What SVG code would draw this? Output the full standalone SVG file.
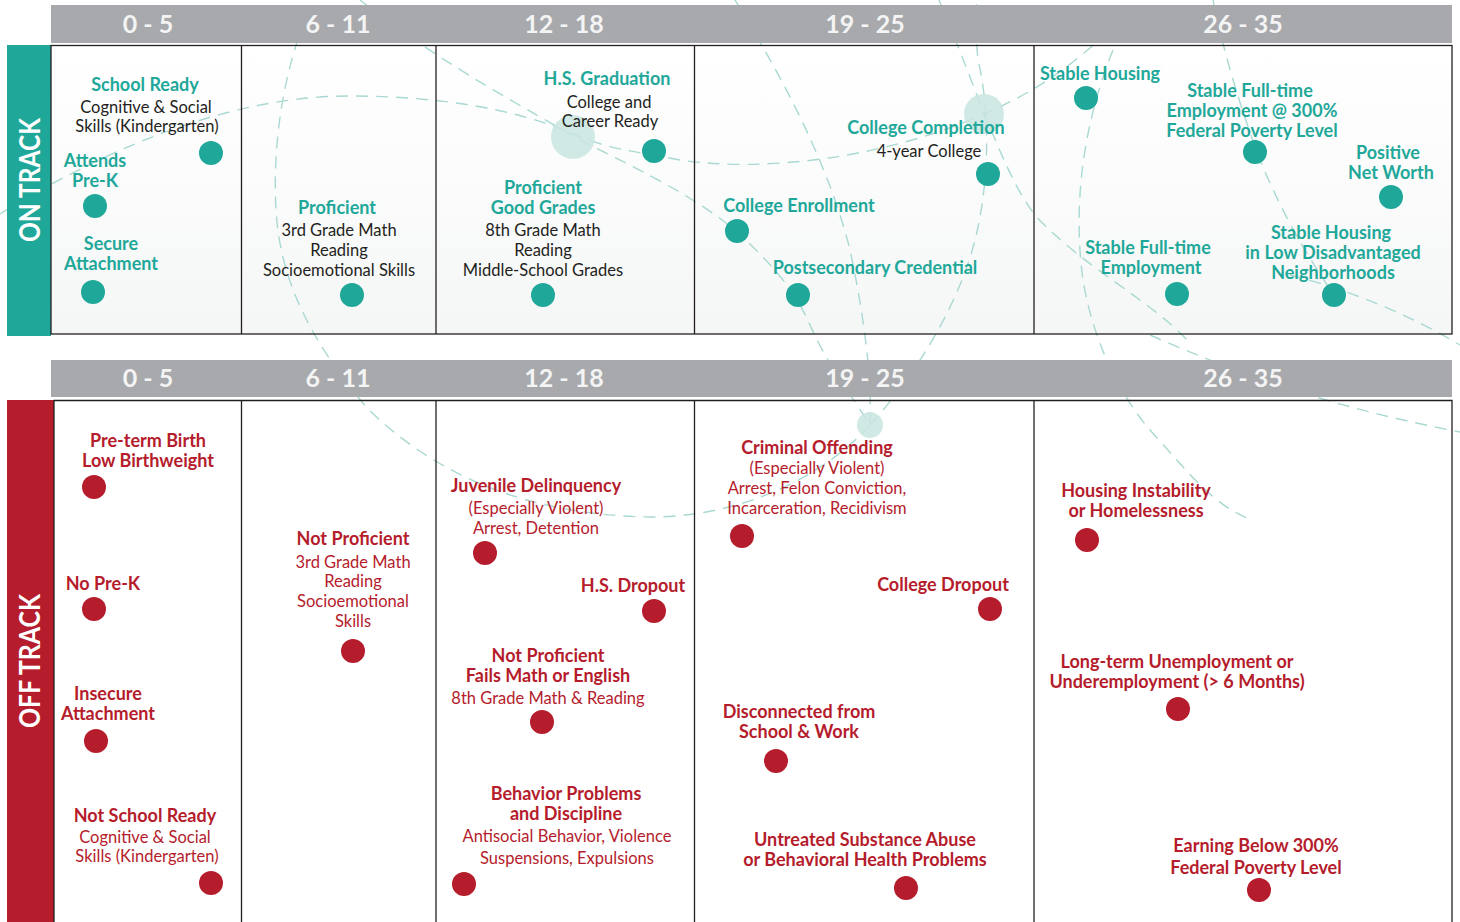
<svg xmlns="http://www.w3.org/2000/svg" width="1460" height="922" viewBox="0 0 1460 922">
<defs>
<linearGradient id="topbg" x1="0" y1="0" x2="0" y2="1">
<stop offset="0" stop-color="#ffffff"/>
<stop offset="1" stop-color="#f5f7f6"/>
</linearGradient>
<style>
text{font-family:Lato,"Open Sans","Liberation Sans",sans-serif;text-anchor:middle}
.hd{font-size:25px;font-weight:bold;fill:#f4f4f4}
.side{font-size:28px;font-weight:bold;fill:#ffffff}
.tb{font-size:18px;font-weight:bold;fill:#1fa89a}
.tk{font-size:16.5px;fill:#231f20}
.rb{font-size:18px;font-weight:bold;fill:#b51c2c}
.rr{font-size:16.5px;fill:#b51c2c}
.td{fill:#1fa89a}
.rd{fill:#b51c2c}
.halo{fill:#c9e5e1;opacity:0.85}
.dash{fill:none;stroke:#a9d9d2;stroke-width:1.4;stroke-dasharray:12 8}
.hdbar{fill:#a7a9ac}
.frame{fill:none;stroke:#231f20;stroke-width:1.3}
</style>
</defs>
<rect width="1460" height="922" fill="#ffffff"/>
<!-- panel backgrounds -->
<rect x="51" y="45" width="1401" height="289" fill="url(#topbg)"/>
<rect x="54" y="400" width="1398" height="522" fill="#ffffff"/>

<!-- decorative dashed curves -->
<g id="connectors">
<path class="dash" d="M0,214 C120,140 240,96 350,96 C440,96 520,110 573,134 C610,150 640,152 680,160 C760,172 880,160 984,114 C1040,90 1080,60 1120,20"/>
<path class="dash" d="M360,0 C450,70 530,110 580,140 C650,175 700,200 737,232 C770,262 795,290 810,325 C830,370 855,400 870,425"/>
<path class="dash" d="M305,20 C285,70 272,140 276,210 C280,280 310,340 367,408 C430,470 520,515 650,517 C750,517 830,470 870,425"/>
<path class="dash" d="M735,0 C790,90 830,170 850,250 C865,320 872,380 870,425"/>
<path class="dash" d="M870,425 C920,370 960,300 975,240 C990,180 990,110 978,60 C975,30 976,10 977,0"/>
<path class="dash" d="M939,0 C960,50 975,90 984,114 C1000,150 1015,190 1035,215 C1080,265 1150,300 1187,340"/>
<path class="dash" d="M1113,50 C1085,120 1072,200 1083,280 C1093,340 1120,400 1160,441 C1190,475 1215,505 1247,518"/>
<path class="dash" d="M1213,0 C1225,60 1245,120 1260,160 C1285,220 1310,260 1334,295"/>
<path class="dash" d="M1290,275 C1350,290 1410,315 1460,345"/>
<path class="dash" d="M1150,335 C1230,370 1320,405 1460,432"/>
</g>

<!-- halos -->
<circle class="halo" cx="573" cy="137" r="22"/>
<circle class="halo" cx="984" cy="114" r="20"/>
<circle class="halo" cx="870" cy="425" r="13" opacity="0.6"/>

<!-- headers -->
<g id="header-top">
<rect class="hdbar" x="51" y="5" width="1401" height="38"/>
<text class="hd" x="148" y="33">0 - 5</text>
<text class="hd" x="338" y="33">6 - 11</text>
<text class="hd" x="564" y="33">12 - 18</text>
<text class="hd" x="865" y="33">19 - 25</text>
<text class="hd" x="1243" y="33">26 - 35</text>
</g>
<g id="header-bottom">
<rect class="hdbar" x="51" y="360" width="1401" height="37"/>
<text class="hd" x="148" y="387">0 - 5</text>
<text class="hd" x="338" y="387">6 - 11</text>
<text class="hd" x="564" y="387">12 - 18</text>
<text class="hd" x="865" y="387">19 - 25</text>
<text class="hd" x="1243" y="387">26 - 35</text>
</g>

<!-- side bars -->
<g id="on-track-label">
<rect x="7" y="45" width="44" height="291" fill="#1fa89a"/>
<text class="side" transform="translate(40,180) rotate(-90)" textLength="124" lengthAdjust="spacingAndGlyphs">ON TRACK</text>
</g>
<g id="off-track-label">
<rect x="7" y="400" width="47" height="522" fill="#b51c2c"/>
<text class="side" transform="translate(40,661) rotate(-90)" textLength="134" lengthAdjust="spacingAndGlyphs">OFF TRACK</text>
</g>

<!-- frames -->
<g id="frames">
<rect class="frame" x="51" y="45.5" width="1401" height="288.5"/>
<line class="frame" x1="241.5" y1="45" x2="241.5" y2="334"/>
<line class="frame" x1="436" y1="45" x2="436" y2="334"/>
<line class="frame" x1="694.5" y1="45" x2="694.5" y2="334"/>
<line class="frame" x1="1034" y1="45" x2="1034" y2="334"/>
<path class="frame" d="M54,922 V400.5 H1452 V922"/>
<line class="frame" x1="241.5" y1="400" x2="241.5" y2="922"/>
<line class="frame" x1="436" y1="400" x2="436" y2="922"/>
<line class="frame" x1="694.5" y1="400" x2="694.5" y2="922"/>
<line class="frame" x1="1034" y1="400" x2="1034" y2="922"/>
</g>

<!-- ON TRACK nodes -->
<g id="school-ready">
<text class="tb" x="145" y="91">School Ready</text>
<text class="tk" x="146" y="113">Cognitive &amp; Social</text>
<text class="tk" x="147" y="132">Skills (Kindergarten)</text>
<circle class="td" cx="211" cy="153" r="12"/>
</g>
<g id="attends-prek">
<text class="tb" x="95" y="167">Attends</text>
<text class="tb" x="95" y="187">Pre-K</text>
<circle class="td" cx="95" cy="206" r="12"/>
</g>
<g id="secure-attachment">
<text class="tb" x="111" y="250">Secure</text>
<text class="tb" x="111" y="270">Attachment</text>
<circle class="td" cx="93" cy="292" r="12"/>
</g>
<g id="proficient-6-11">
<text class="tb" x="337" y="214">Proficient</text>
<text class="tk" x="339" y="236">3rd Grade Math</text>
<text class="tk" x="339" y="256">Reading</text>
<text class="tk" x="339" y="276">Socioemotional Skills</text>
<circle class="td" cx="352" cy="295" r="12"/>
</g>
<g id="hs-graduation">
<text class="tb" x="607" y="85">H.S. Graduation</text>
<text class="tk" x="609" y="108">College and</text>
<text class="tk" x="610" y="127">Career Ready</text>
<circle class="td" cx="654" cy="151" r="12"/>
</g>
<g id="proficient-12-18">
<text class="tb" x="543" y="194">Proficient</text>
<text class="tb" x="543" y="214">Good Grades</text>
<text class="tk" x="543" y="236">8th Grade Math</text>
<text class="tk" x="543" y="256">Reading</text>
<text class="tk" x="543" y="276">Middle-School Grades</text>
<circle class="td" cx="543" cy="295" r="12"/>
</g>
<g id="college-completion">
<text class="tb" x="926" y="134">College Completion</text>
<text class="tk" x="929" y="157">4-year College</text>
<circle class="td" cx="988" cy="174" r="12"/>
</g>
<g id="college-enrollment">
<text class="tb" x="799" y="212">College Enrollment</text>
<circle class="td" cx="737" cy="231" r="12"/>
</g>
<g id="postsecondary-credential">
<text class="tb" x="875" y="274">Postsecondary Credential</text>
<circle class="td" cx="798" cy="295" r="12"/>
</g>
<g id="stable-housing">
<text class="tb" x="1100" y="80">Stable Housing</text>
<circle class="td" cx="1086" cy="98" r="12"/>
</g>
<g id="stable-employment-300">
<text class="tb" x="1250" y="97">Stable Full-time</text>
<text class="tb" x="1252" y="117">Employment @ 300%</text>
<text class="tb" x="1252" y="137">Federal Poverty Level</text>
<circle class="td" cx="1255" cy="152" r="12"/>
</g>
<g id="positive-net-worth">
<text class="tb" x="1388" y="159">Positive</text>
<text class="tb" x="1391" y="179">Net Worth</text>
<circle class="td" cx="1391" cy="197" r="12"/>
</g>
<g id="stable-employment">
<text class="tb" x="1148" y="254">Stable Full-time</text>
<text class="tb" x="1151" y="274">Employment</text>
<circle class="td" cx="1177" cy="294" r="12"/>
</g>
<g id="stable-housing-low-disadvantage">
<text class="tb" x="1331" y="239">Stable Housing</text>
<text class="tb" x="1333" y="259">in Low Disadvantaged</text>
<text class="tb" x="1333" y="279">Neighborhoods</text>
<circle class="td" cx="1334" cy="295" r="12"/>
</g>

<!-- OFF TRACK nodes -->
<g id="preterm-birth">
<text class="rb" x="148" y="447">Pre-term Birth</text>
<text class="rb" x="148" y="467">Low Birthweight</text>
<circle class="rd" cx="94" cy="487" r="12"/>
</g>
<g id="no-prek">
<text class="rb" x="103" y="590">No Pre-K</text>
<circle class="rd" cx="94" cy="609" r="12"/>
</g>
<g id="insecure-attachment">
<text class="rb" x="108" y="700">Insecure</text>
<text class="rb" x="108" y="720">Attachment</text>
<circle class="rd" cx="96" cy="741" r="12"/>
</g>
<g id="not-school-ready">
<text class="rb" x="145" y="822">Not School Ready</text>
<text class="rr" x="145" y="843">Cognitive &amp; Social</text>
<text class="rr" x="147" y="862">Skills (Kindergarten)</text>
<circle class="rd" cx="211" cy="883" r="12"/>
</g>
<g id="not-proficient-6-11">
<text class="rb" x="353" y="545">Not Proficient</text>
<text class="rr" x="353" y="568">3rd Grade Math</text>
<text class="rr" x="353" y="587">Reading</text>
<text class="rr" x="353" y="607">Socioemotional</text>
<text class="rr" x="353" y="627">Skills</text>
<circle class="rd" cx="353" cy="651" r="12"/>
</g>
<g id="juvenile-delinquency">
<text class="rb" x="536" y="492">Juvenile Delinquency</text>
<text class="rr" x="536" y="514">(Especially Violent)</text>
<text class="rr" x="536" y="534">Arrest, Detention</text>
<circle class="rd" cx="485" cy="553" r="12"/>
</g>
<g id="hs-dropout">
<text class="rb" x="633" y="592">H.S. Dropout</text>
<circle class="rd" cx="654" cy="611" r="12"/>
</g>
<g id="not-proficient-12-18">
<text class="rb" x="548" y="662">Not Proficient</text>
<text class="rb" x="548" y="682">Fails Math or English</text>
<text class="rr" x="548" y="704">8th Grade Math &amp; Reading</text>
<circle class="rd" cx="542" cy="722" r="12"/>
</g>
<g id="behavior-problems">
<text class="rb" x="566" y="800">Behavior Problems</text>
<text class="rb" x="566" y="820">and Discipline</text>
<text class="rr" x="567" y="842">Antisocial Behavior, Violence</text>
<text class="rr" x="567" y="864">Suspensions, Expulsions</text>
<circle class="rd" cx="464" cy="884" r="12"/>
</g>
<g id="criminal-offending">
<text class="rb" x="817" y="454">Criminal Offending</text>
<text class="rr" x="817" y="474">(Especially Violent)</text>
<text class="rr" x="817" y="494">Arrest, Felon Conviction,</text>
<text class="rr" x="817" y="514">Incarceration, Recidivism</text>
<circle class="rd" cx="742" cy="536" r="12"/>
</g>
<g id="college-dropout">
<text class="rb" x="943" y="591">College Dropout</text>
<circle class="rd" cx="990" cy="609" r="12"/>
</g>
<g id="disconnected">
<text class="rb" x="799" y="718">Disconnected from</text>
<text class="rb" x="799" y="738">School &amp; Work</text>
<circle class="rd" cx="776" cy="761" r="12"/>
</g>
<g id="untreated-substance-abuse">
<text class="rb" x="865" y="846">Untreated Substance Abuse</text>
<text class="rb" x="865" y="866">or Behavioral Health Problems</text>
<circle class="rd" cx="906" cy="888" r="12"/>
</g>
<g id="housing-instability">
<text class="rb" x="1136" y="497">Housing Instability</text>
<text class="rb" x="1136" y="517">or Homelessness</text>
<circle class="rd" cx="1087" cy="540" r="12"/>
</g>
<g id="long-term-unemployment">
<text class="rb" x="1177" y="668">Long-term Unemployment or</text>
<text class="rb" x="1177" y="688">Underemployment (&gt; 6 Months)</text>
<circle class="rd" cx="1178" cy="709" r="12"/>
</g>
<g id="earning-below-300">
<text class="rb" x="1256" y="852">Earning Below 300%</text>
<text class="rb" x="1256" y="874">Federal Poverty Level</text>
<circle class="rd" cx="1259" cy="890" r="12"/>
</g>
</svg>
